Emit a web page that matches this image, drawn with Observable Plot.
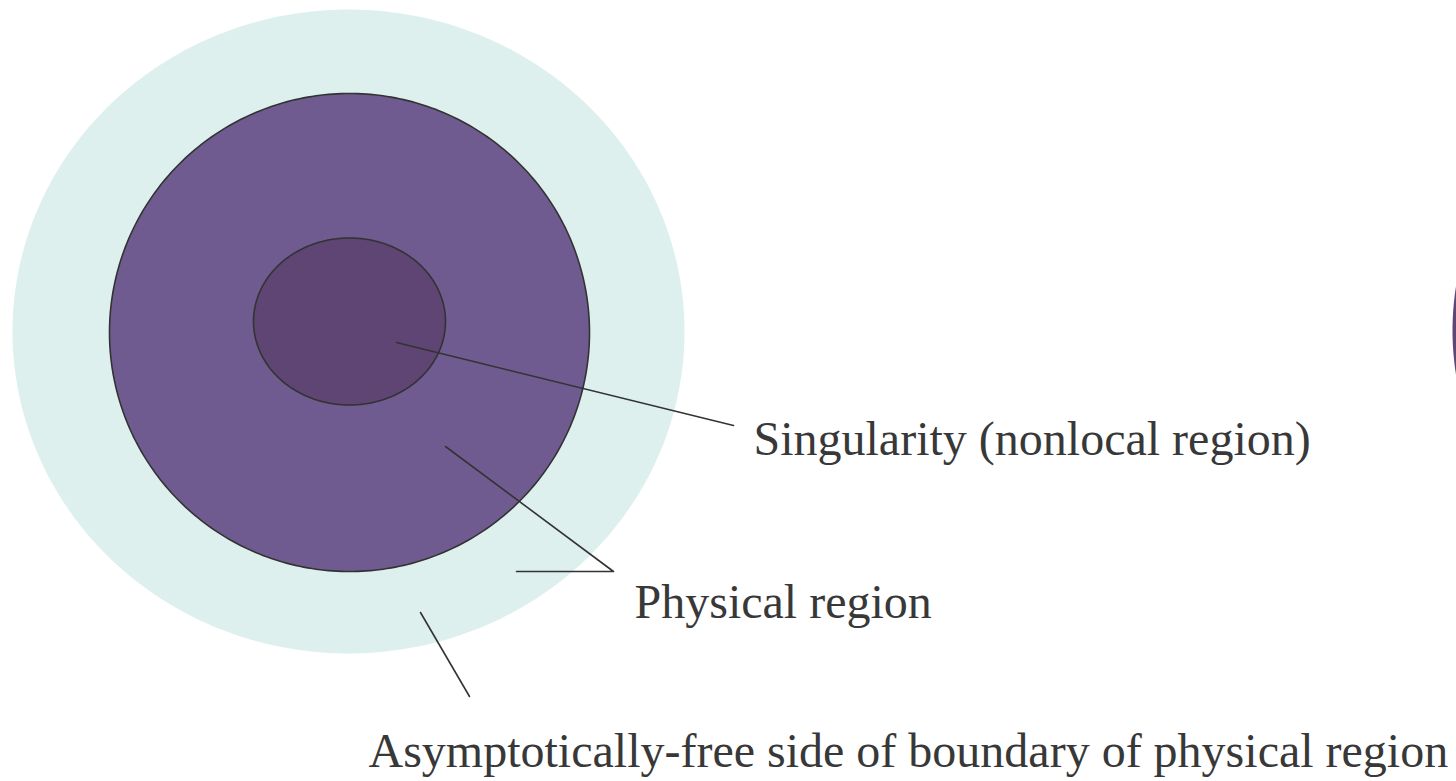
<!DOCTYPE html>
<html>
<head>
<meta charset="utf-8">
<script src="https://cdn.jsdelivr.net/npm/d3@7"></script>
<script src="https://cdn.jsdelivr.net/npm/@observablehq/plot@0.6"></script>
<style>
  html, body { margin: 0; padding: 0; background: #ffffff; }
  #chart { width: 1456px; height: 781px; overflow: hidden; }
</style>
</head>
<body>
<div id="chart"></div>
<script>
// Regions of the diagram (diagram units, y grows downward)
const regionNames = ["Asymptotic boundary", "Physical region", "Singularity", "Neighbouring region"];
const regionCx = [348, 349, 349, 1732];
const regionCy = [331, 332, 321, 330];
const regionRx = [336, 240, 96, 280];
const regionRy = [322, 239, 83.5, 280];

// Labels
const labelTexts = [
  "Singularity (nonlocal region)",
  "Physical region",
  "Asymptotically-free side of boundary of physical region"
];
const labelX = [753, 634, 368];
const labelY = [454, 617, 766];

// Leader lines (polyline vertices per label)
const leaderLabel = [0, 0, 1, 1, 1, 2, 2];
const leaderX = [396, 733, 445, 613, 516, 420, 469];
const leaderY = [342, 425, 446, 571, 571, 612, 696];

const regionFill = ["#ddf0ee", "#705b91", "#5e4574", "#5f4676"];
const regionStroke = ["none", "#333333", "#333333", "none"];

function outline(i) {
  return d3.range(0, 360, 1).map(a => {
    const t = a * Math.PI / 180;
    return {
      region: regionNames[i],
      x: regionCx[i] + regionRx[i] * Math.cos(t),
      y: regionCy[i] + regionRy[i] * Math.sin(t)
    };
  });
}

const labels = labelTexts.map((t, i) => ({text: t, x: labelX[i], y: labelY[i]}));
const leaders = leaderX.map((x, i) => ({label: labelTexts[leaderLabel[i]], x, y: leaderY[i]}));

const marks = [];
[0, 3, 1, 2].forEach(i => {
  marks.push(Plot.line(outline(i), {
    x: "x", y: "y", curve: "linear-closed",
    fill: regionFill[i], stroke: regionStroke[i], strokeWidth: 1.6
  }));
});
marks.push(Plot.line(leaders, {
  x: "x", y: "y", z: "label", stroke: "#333333", strokeWidth: 1.6
}));
marks.push(Plot.text(labels, {
  x: "x", y: "y", text: "text", textAnchor: "start", lineAnchor: "bottom",
  fontSize: 48, fontFamily: "Liberation Serif, Times New Roman, serif", fill: "#383838"
}));

const chart = Plot.plot({
  width: 1456,
  height: 781,
  margin: 0,
  x: {domain: [0, 1456], range: [0, 1456], axis: null},
  y: {domain: [0, 781], range: [0, 781], axis: null},
  style: {background: "#ffffff", overflow: "hidden"},
  marks
});
document.getElementById("chart").appendChild(chart);
</script>
</body>
</html>
